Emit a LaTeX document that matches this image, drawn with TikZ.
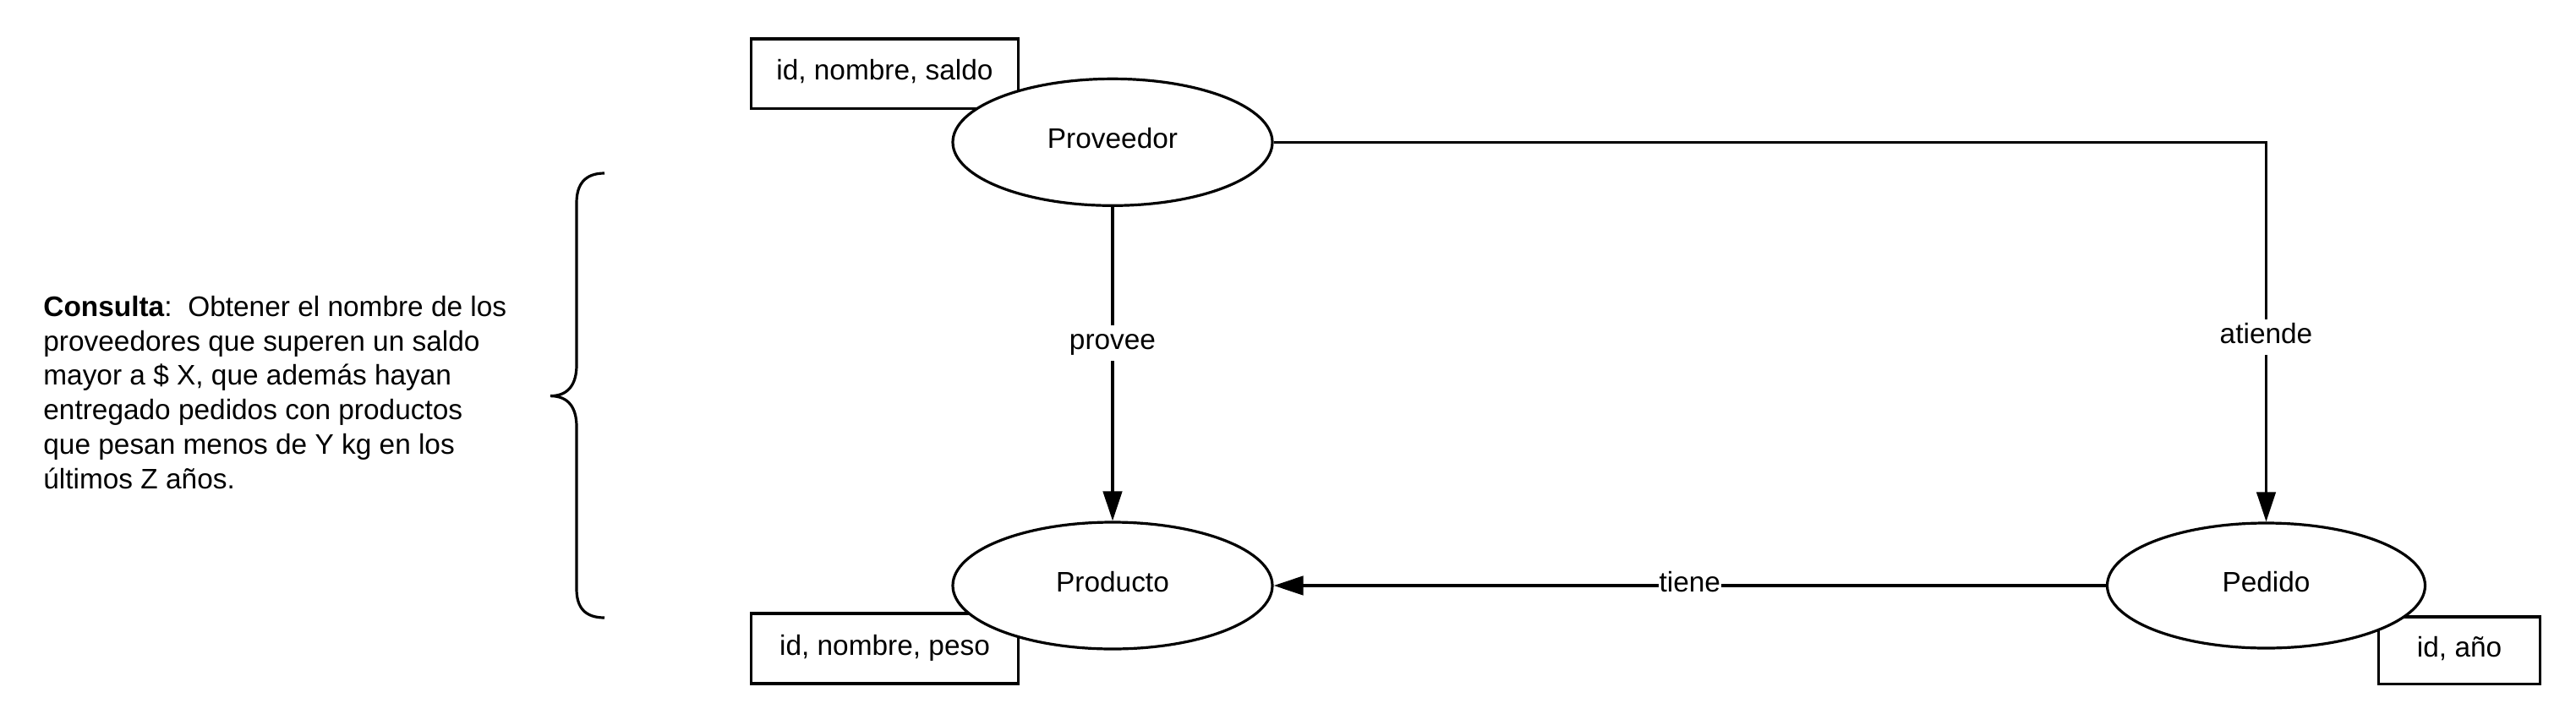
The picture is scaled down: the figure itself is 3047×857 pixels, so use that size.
\documentclass[tikz,border=0pt]{standalone}
\usepackage{fontspec}
\setmainfont{Liberation Sans}
\usetikzlibrary{arrows.meta,shapes.geometric}
\begin{document}
\begin{tikzpicture}[x=0.5pt,y=-0.5pt,
  every node/.style={font=\fontsize{16.7}{20.4}\selectfont},
  ent/.style={ellipse, draw, line width=1.6pt, fill=white, minimum width=189pt, minimum height=75pt, inner sep=0pt, text height=11.5pt, text depth=4pt},
  attr/.style={rectangle, draw, line width=1.6pt, fill=white, inner sep=0pt, text height=11.5pt, text depth=4pt},
  conn/.style={line width=1.6pt, -{Triangle[length=17.5pt,width=11.2pt]}},
  lbl/.style={fill=white, inner xsep=0.5pt, inner ysep=2.75pt, text height=11.5pt, text depth=4pt},
  bracestyle/.style={line width=1.6pt}
]
\useasboundingbox (0,0) rectangle (3047,857);

% attribute boxes
\node[attr, minimum width=157.85pt, minimum height=41.15pt] (asaldo) at (1046.5,87.2) {id, nombre, saldo};
\node[attr, minimum width=157.85pt, minimum height=41.5pt] (apeso) at (1046.5,767.5) {id, nombre, peso};
\node[attr, minimum width=95.5pt, minimum height=39.65pt] (aano) at (2909.1,769.7) {id, año};

% entities
\node[ent] (prov) at (1316,168.3) {Proveedor};
\node[ent] (prod) at (1316,693) {Producto};
\node[ent, minimum width=188pt, minimum height=74pt] (ped) at (2680.5,693) {Pedido};

% connectors
\draw[conn] (prov.south) -- node[lbl, pos=0.434] (lprovee) {provee} (prod.north);
\draw[conn] (prov.east) -| node[lbl, pos=0.757] (latiende) {atiende} (ped.north);
\draw[conn] (ped.west) -- node[lbl, pos=0.5] (ltiene) {tiene} (prod.east);

% brace
\draw[bracestyle] (715,205) .. controls (692,205) and (682,218) .. (682,240)
  -- (682,432) .. controls (682,455) and (672,468.6) .. (651,468.6)
  .. controls (672,468.6) and (682,482) .. (682,505)
  -- (682,697) .. controls (682,719) and (692,731) .. (715,731);

% query text
\node[anchor=north west, inner sep=0pt, align=left] (consulta) at (51,349.6)
  {\textbf{Consulta}:\ \ Obtener el nombre de los\\
   proveedores que superen un saldo\\
   mayor a \$ X, que además hayan\\
   entregado pedidos con productos\\
   que pesan menos de Y kg en los\\
   últimos Z años.};
\end{tikzpicture}
\end{document}
